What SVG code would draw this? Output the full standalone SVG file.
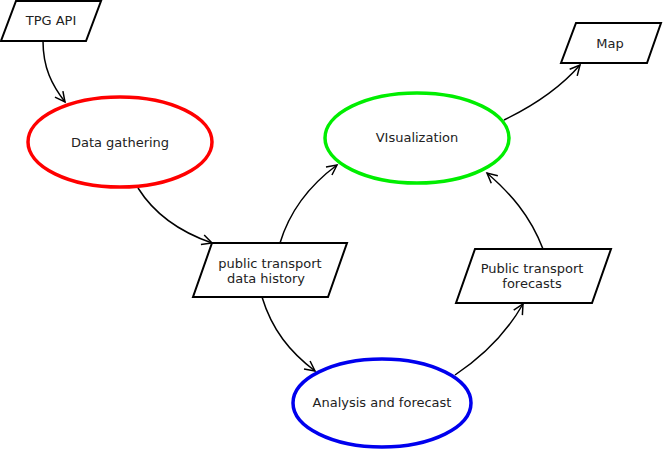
<svg xmlns="http://www.w3.org/2000/svg" width="663" height="450" viewBox="0 0 663 450">
<style>
.io{fill:#fff;stroke:#000;stroke-width:2}
.proc{fill:#fff;stroke-width:3.5}
.lbl{font-family:"DejaVu Sans",sans-serif;font-size:13px;fill:#222;text-anchor:middle;dominant-baseline:central}
.edge{fill:none;stroke:#000;stroke-width:1.5;marker-end:url(#ah)}
</style>
<defs>
<marker id="ah" markerUnits="userSpaceOnUse" markerWidth="14" markerHeight="14" refX="11" refY="6" orient="auto" overflow="visible">
<path d="M1,1 L11,6 L1,11" fill="none" stroke="#000" stroke-width="1.5"/>
</marker>
</defs>
<rect width="663" height="450" fill="#fff"/>
<g id="connectors">
<path class="edge" d="M43,41 C43,68 52,85 65,102"/>
<path class="edge" d="M138,188 C155,215 180,232 212,243"/>
<path class="edge" d="M280,243 C290,210 310,185 337,165"/>
<path class="edge" d="M262,297 C272,330 290,352 315,371"/>
<path class="edge" d="M455,375 C485,355 507,332 523,304"/>
<path class="edge" d="M543,249 C530,215 510,193 487,173"/>
<path class="edge" d="M504,120 C535,105 560,88 580,65"/>
</g>
<g id="tpg-api">
<polygon class="io" points="16,1 101,1 86,41 1,41"/>
<text class="lbl" x="51" y="20">TPG API</text>
</g>
<g id="data-gathering">
<ellipse class="proc" cx="120" cy="142" rx="92" ry="45" stroke="#f00"/>
<text class="lbl" x="120" y="142">Data gathering</text>
</g>
<g id="pt-history">
<polygon class="io" points="212,243 347,243 328,297 193,297"/>
<text class="lbl" x="270" y="263">public transport</text>
<text class="lbl" x="266" y="278">data history</text>
</g>
<g id="visualization">
<ellipse class="proc" cx="417" cy="138" rx="92" ry="45" stroke="#0e0"/>
<text class="lbl" x="417" y="137">VIsualization</text>
</g>
<g id="map">
<polygon class="io" points="576,23 661,23 647,63 561,63"/>
<text class="lbl" x="610" y="43">Map</text>
</g>
<g id="pt-forecasts">
<polygon class="io" points="475,249 611,249 592,303 456,303"/>
<text class="lbl" x="532" y="268">Public transport</text>
<text class="lbl" x="532" y="283">forecasts</text>
</g>
<g id="analysis">
<ellipse class="proc" cx="382" cy="403" rx="89" ry="44" stroke="#00e"/>
<text class="lbl" x="382" y="402">Analysis and forecast</text>
</g>
</svg>
